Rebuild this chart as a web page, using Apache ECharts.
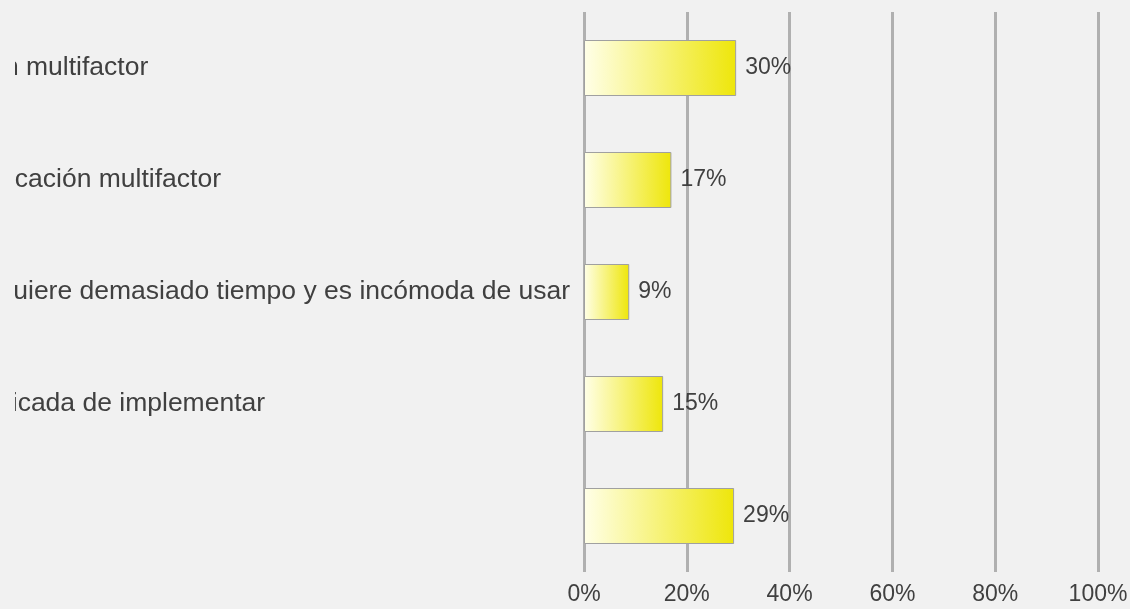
<!DOCTYPE html>
<html>
<head>
<meta charset="utf-8">
<script src="https://cdn.jsdelivr.net/npm/echarts@6/dist/echarts.min.js"></script>
<style>
  html, body { margin: 0; padding: 0; background: #f1f1f1; }
  /* el contenedor empieza en x=15, así las etiquetas largas quedan recortadas por la izquierda */
  #chart { position: absolute; left: 15px; top: 0; width: 1115px; height: 609px; }
</style>
</head>
<body>
<div id="chart"></div>
<script>
// categorías (texto completo, se ve solo el final)
const categorias = [
  'Ya uso siempre la autenticación multifactor',
  'No he utilizado nunca la autenticación multifactor',
  'La autenticación multifactor requiere demasiado tiempo y es incómoda de usar',
  'Es una herramienta muy complicada de implementar',
  'Otro (especifique)'
];
// porcentaje de respuestas
const valores = [29.6, 17.0, 8.8, 15.4, 29.2];
const ticksEje = [0, 20, 40, 60, 80, 100];

const chart = echarts.init(document.getElementById('chart'));

const option = {
  backgroundColor: '#f1f1f1',
  textStyle: { fontFamily: 'Liberation Sans, Arial, sans-serif' },
  grid: {
    left: 569, right: 32, top: 12, bottom: 37,
    containLabel: false,
    outerBoundsMode: 'none'
  },
  xAxis: {
    type: 'value',
    min: ticksEje[0],
    max: ticksEje[ticksEje.length - 1],
    interval: 20,
    axisLine: { show: false },
    axisTick: { show: false },
    axisLabel: {
      formatter: '{value}%',
      fontSize: 23,
      color: '#404040',
      margin: 11
    },
    splitLine: {
      show: true,
      lineStyle: { color: '#b0b0b0', width: 3 }
    }
  },
  yAxis: {
    type: 'category',
    inverse: true,
    data: categorias,
    axisLine: { show: false },
    axisTick: { show: false },
    axisLabel: {
      interval: 0,
      align: 'left',
      margin: 939,
      padding: [5, 0, 0, 0],
      fontSize: 26.5,
      color: '#404040'
    }
  },
  series: [
    {
      type: 'bar',
      data: valores,
      barWidth: '50%',
      itemStyle: {
        borderColor: '#a0a0a0',
        borderWidth: 1,
        color: new echarts.graphic.LinearGradient(0, 0, 1, 0, [
          { offset: 0, color: '#ffffe8' },
          { offset: 1, color: '#eee60a' }
        ])
      },
      label: {
        show: true,
        position: 'right',
        distance: 9,
        fontSize: 23,
        color: '#404040',
        formatter: p => Math.round(p.value) + '%'
      }
    }
  ]
};

chart.setOption(option);
window.addEventListener('resize', () => chart.resize());
</script>
</body>
</html>
